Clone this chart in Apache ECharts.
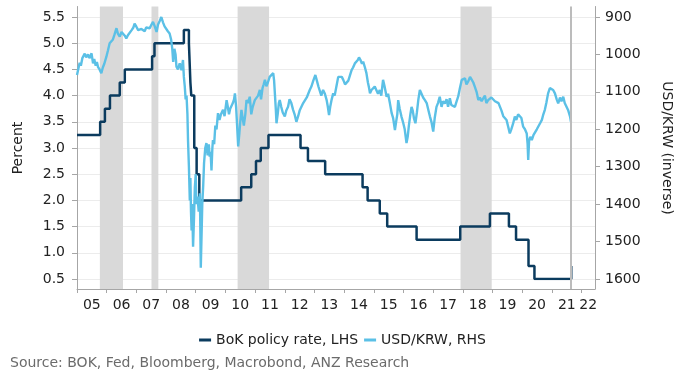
<!DOCTYPE html>
<html><head><meta charset="utf-8">
<script src="https://cdn.jsdelivr.net/npm/echarts@6/dist/echarts.min.js"></script>
<style>html,body{margin:0;padding:0;background:#fff}#c{width:685px;height:384px}</style>
</head><body><div id="c"></div>
<script>
// ---- data ----
const years = [2005,2006,2007,2008,2009,2010,2011,2012,2013,2014,2015,2016,2017,2018,2019,2020,2021,2022];
const yearLabels = ['05','06','07','08','09','10','11','12','13','14','15','16','17','18','19','20','21','22'];
const shadedStart = [2005.77, 2007.51, 2010.41, 2017.92];
const shadedEnd   = [2006.55, 2007.74, 2011.47, 2018.97];
const dataEnd = 2021.63;

const bokDates = [2005.00,2005.78,2005.94,2006.11,2006.44,2006.61,2007.53,2007.61,2008.60,2008.77,2008.82,2008.85,2008.95,2009.03,2009.12,2010.53,2010.87,2011.03,2011.19,2011.45,2012.53,2012.78,2013.36,2014.62,2014.79,2015.20,2015.45,2016.44,2017.91,2018.91,2019.55,2019.79,2020.21,2020.41,2021.65];
const bokRate  = [3.25,3.50,3.75,4.00,4.25,4.50,4.75,5.00,5.25,5.00,4.25,4.00,3.00,2.50,2.00,2.25,2.50,2.75,3.00,3.25,3.00,2.75,2.50,2.25,2.00,1.75,1.50,1.25,1.50,1.75,1.50,1.25,0.75,0.50,0.75];

const krwDates = [2005.00,2005.04,2005.09,2005.13,2005.18,2005.22,2005.26,2005.31,2005.37,2005.42,2005.49,2005.54,2005.58,2005.63,2005.67,2005.71,2005.76,2005.82,2005.87,2005.92,2005.99,
2006.04,2006.10,2006.15,2006.21,2006.26,2006.33,2006.38,2006.44,2006.50,2006.55,2006.61,2006.66,2006.72,2006.78,2006.84,2006.90,2006.94,
2007.00,2007.06,2007.12,2007.17,2007.22,2007.28,2007.33,2007.39,2007.45,2007.51,2007.56,2007.62,2007.68,2007.73,2007.79,2007.84,2007.90,2007.95,
2008.01,2008.06,2008.12,2008.17,2008.21,2008.24,2008.28,2008.32,2008.35,2008.40,2008.46,2008.52,2008.57,2008.60,2008.63,2008.66,2008.69,2008.72,2008.74,2008.77,2008.80,2008.82,2008.84,2008.86,2008.88,2008.91,2008.94,2008.97,
2009.00,2009.02,2009.06,2009.10,2009.14,2009.17,2009.20,2009.22,2009.25,2009.28,2009.32,2009.36,2009.40,2009.44,2009.47,2009.50,2009.53,2009.56,2009.58,2009.62,2009.66,2009.70,2009.75,2009.80,2009.85,2009.92,2009.97,
2010.04,2010.08,2010.12,2010.16,2010.20,2010.25,2010.29,2010.32,2010.36,2010.40,2010.43,2010.47,2010.50,2010.54,2010.58,2010.62,2010.67,2010.71,2010.76,2010.82,2010.87,2010.92,2010.99,
2011.04,2011.10,2011.16,2011.20,2011.25,2011.29,2011.33,2011.38,2011.43,2011.49,2011.55,2011.61,2011.64,2011.67,2011.70,2011.72,2011.76,2011.80,2011.83,2011.88,2011.93,
2012.00,2012.05,2012.11,2012.16,2012.22,2012.28,2012.33,2012.39,2012.45,2012.50,2012.56,2012.62,2012.68,2012.74,2012.79,2012.84,2012.90,2012.96,
2013.03,2013.08,2013.13,2013.18,2013.23,2013.29,2013.35,2013.41,2013.45,2013.49,2013.53,2013.58,2013.63,2013.68,2013.74,2013.80,2013.86,2013.92,2013.97,
2014.03,2014.08,2014.14,2014.20,2014.25,2014.30,2014.36,2014.41,2014.46,2014.50,2014.55,2014.60,2014.64,2014.70,2014.75,2014.80,2014.84,2014.87,2014.92,2014.97,
2015.03,2015.08,2015.14,2015.20,2015.25,2015.31,2015.36,2015.43,2015.48,2015.54,2015.60,2015.65,2015.71,2015.75,2015.79,2015.82,2015.87,2015.93,2015.98,
2016.04,2016.10,2016.14,2016.18,2016.23,2016.27,2016.31,2016.35,2016.40,2016.45,2016.50,2016.55,2016.61,2016.66,2016.72,2016.78,2016.84,2016.89,2016.94,
2017.00,2017.05,2017.11,2017.16,2017.22,2017.28,2017.33,2017.39,2017.45,2017.50,2017.56,2017.61,2017.67,2017.73,2017.79,2017.84,2017.90,2017.96,
2018.01,2018.07,2018.12,2018.18,2018.24,2018.30,2018.35,2018.40,2018.46,2018.52,2018.57,2018.63,2018.68,2018.74,2018.79,2018.85,2018.90,2018.96,
2019.02,2019.08,2019.14,2019.20,2019.25,2019.30,2019.36,2019.42,2019.47,2019.52,2019.58,2019.63,2019.69,2019.75,2019.80,2019.86,2019.92,2019.97,
2020.03,2020.09,2020.15,2020.18,2020.20,2020.23,2020.27,2020.32,2020.38,2020.43,2020.49,2020.55,2020.60,2020.66,2020.71,2020.76,2020.81,2020.87,2020.93,2020.99,
2021.04,2021.10,2021.16,2021.21,2021.27,2021.32,2021.38,2021.43,2021.49,2021.55,2021.61,2021.64];
const krwValues = [1055,1040,1022,1030,1010,1015,998,1008,1000,1010,997,1024,1012,1030,1020,1034,1040,1050,1035,1025,1006,
990,970,975,960,948,930,945,952,940,945,950,957,948,944,935,928,918,
926,935,940,932,930,938,928,926,930,920,913,925,940,920,910,900,915,925,
930,938,944,960,985,1020,985,1000,1033,1040,1024,1042,1015,1060,1085,1120,1110,1160,1230,1300,1390,1330,1420,1470,1400,1514,1440,1355,
1320,1400,1380,1420,1371,1570,1470,1400,1353,1290,1250,1237,1270,1240,1273,1260,1310,1250,1229,1240,1190,1200,1157,1175,1160,1148,1165,
1122,1140,1160,1145,1140,1130,1120,1104,1140,1200,1246,1210,1180,1148,1170,1190,1160,1122,1130,1113,1160,1140,1122,
1125,1110,1095,1120,1090,1080,1068,1085,1075,1060,1055,1050,1070,1110,1150,1184,1160,1130,1122,1140,1155,
1166,1150,1140,1120,1130,1148,1160,1180,1165,1150,1140,1130,1125,1115,1105,1095,1085,1070,
1055,1070,1085,1086,1110,1095,1105,1122,1140,1162,1140,1120,1104,1110,1085,1060,1065,1060,1068,
1080,1082,1070,1065,1042,1035,1024,1020,1015,1008,1015,1025,1019,1035,1050,1075,1090,1104,1095,1100,
1086,1090,1105,1095,1110,1068,1085,1113,1105,1130,1157,1170,1202,1180,1160,1122,1145,1166,1180,
1200,1237,1220,1190,1160,1140,1150,1170,1184,1155,1120,1095,1100,1115,1122,1130,1150,1166,1180,
1206,1170,1140,1130,1113,1140,1125,1131,1120,1140,1117,1135,1130,1140,1125,1113,1090,1068,
1063,1064,1080,1072,1060,1068,1075,1086,1100,1122,1115,1125,1122,1110,1130,1122,1120,1115,
1113,1125,1120,1130,1131,1150,1165,1166,1175,1180,1211,1200,1185,1166,1175,1160,1162,1170,
1193,1200,1211,1240,1282,1230,1220,1229,1215,1211,1200,1195,1184,1175,1160,1148,1130,1104,1090,1086,
1095,1104,1120,1131,1115,1125,1113,1130,1140,1150,1166,1180];

// ---- chart ----
const FONT = 'DejaVu Sans';
const TXT = '#222';
const AXIS = '#a6a6a6';
const chart = echarts.init(document.getElementById('c'), null, {renderer: 'canvas'});

const gridL = 77, gridR = 90;
chart.setOption({
  animation: false,
  backgroundColor: '#fff',
  textStyle: {fontFamily: FONT},
  title: {
    text: 'Source: BOK, Fed, Bloomberg, Macrobond, ANZ Research',
    left: 5, top: 351,
    textStyle: {fontFamily: FONT, fontSize: 14, fontWeight: 'normal', color: '#6b6b6b'}
  },
  legend: {
    data: ['BoK policy rate, LHS', 'USD/KRW, RHS'],
    left: 'center', top: 328,
    icon: 'rect', itemWidth: 12, itemHeight: 3, itemGap: 6,
    textStyle: {fontFamily: FONT, fontSize: 14, color: TXT}
  },
  grid: [
    {left: gridL, right: gridR, top: 6.5, bottom: 95, outerBoundsMode: 'none', containLabel: false},
    {left: gridL, right: gridR, top: 17, bottom: 105, outerBoundsMode: 'none', containLabel: false}
  ],
  xAxis: [
    {
      gridIndex: 0, type: 'value', min: 2005, max: 2022.45, interval: 1,
      axisLine: {show: true, onZero: false, lineStyle: {color: AXIS, width: 1}},
      axisTick: {show: true, length: 4, lineStyle: {color: AXIS}, customValues: years},
      splitLine: {show: false},
      axisLabel: {
        margin: 9, customValues: years,
        formatter: function (v) {
          const r = Math.round(v);
          if (Math.abs(v - r) > 1e-6) return '';
          const i = years.indexOf(r);
          if (i < 0) return '';
          return (r === 2022 ? '{e|' : '{m|') + yearLabels[i] + '}';
        },
        rich: {
          m: {padding: [0, 0, 0, 29.7], fontFamily: FONT, fontSize: 14, color: TXT},
          e: {padding: [0, 0, 0, 13], fontFamily: FONT, fontSize: 14, color: TXT}
        }
      }
    },
    {gridIndex: 1, type: 'value', min: 2005, max: 2022.45, show: false}
  ],
  yAxis: [
    {gridIndex: 0, type: 'value', min: 0.3, max: 5.7, position: 'left',
      axisLine: {show: true, onZero: false, lineStyle: {color: AXIS}}, axisTick: {show: false},
      axisLabel: {show: false}, splitLine: {show: false}},
    {gridIndex: 0, type: 'value', min: 0.3, max: 5.7, position: 'right',
      axisLine: {show: true, onZero: false, lineStyle: {color: AXIS}}, axisTick: {show: false},
      axisLabel: {show: false}, splitLine: {show: false}},
    {gridIndex: 1, type: 'value', min: 0.5, max: 5.5, interval: 0.5, position: 'left',
      axisLine: {show: false}, axisTick: {show: true, length: 5, lineStyle: {color: AXIS}},
      axisLabel: {margin: 12, fontFamily: FONT, fontSize: 14, color: TXT, formatter: v => v.toFixed(1)},
      splitLine: {show: true, lineStyle: {color: '#ececec', width: 1}},
      name: 'Percent', nameLocation: 'middle', nameRotate: 90, nameGap: 52,
      nameTextStyle: {fontFamily: FONT, fontSize: 14, color: TXT}},
    {gridIndex: 1, type: 'value', min: 900, max: 1600, interval: 100, inverse: true, position: 'right',
      axisLine: {show: false}, axisTick: {show: true, length: 5, lineStyle: {color: AXIS}},
      axisLabel: {margin: 10, fontFamily: FONT, fontSize: 14, color: TXT, formatter: v => String(Math.round(v))},
      splitLine: {show: false},
      name: 'USD/KRW (inverse)', nameLocation: 'middle', nameRotate: -90, nameGap: 65,
      nameTextStyle: {fontFamily: FONT, fontSize: 14, color: TXT}}
  ],
  series: [
    {
      type: 'line', xAxisIndex: 0, yAxisIndex: 0, data: [], silent: true, z: 1,
      markArea: {
        silent: true, itemStyle: {color: '#d9d9d9'},
        data: shadedStart.map((s, i) => [{xAxis: s}, {xAxis: shadedEnd[i]}])
      },
      markLine: {
        silent: true, symbol: ['none', 'none'], label: {show: false},
        lineStyle: {color: '#bcbcbc', width: 2, type: 'solid'},
        data: [{xAxis: dataEnd}]
      }
    },
    {
      name: 'BoK policy rate, LHS', type: 'line', step: 'end', xAxisIndex: 1, yAxisIndex: 2,
      data: bokDates.map((d, i) => [d, bokRate[i]]), showSymbol: false, z: 3,
      lineStyle: {color: '#0b3b5e', width: 2.5}, itemStyle: {color: '#0b3b5e'}
    },
    {
      name: 'USD/KRW, RHS', type: 'line', xAxisIndex: 1, yAxisIndex: 3,
      data: krwDates.map((d, i) => [d, krwValues[i]]), showSymbol: false, z: 4,
      lineStyle: {color: '#5bc0e6', width: 2.4}, itemStyle: {color: '#5bc0e6'}
    }
  ]
});
</script></body></html>
